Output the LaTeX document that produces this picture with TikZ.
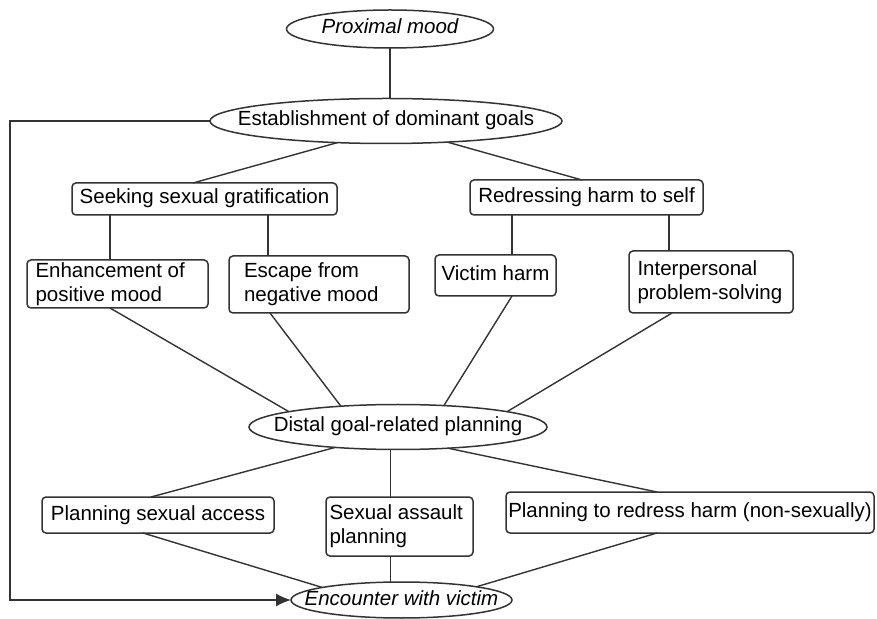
\documentclass[tikz,border=0pt]{standalone}
\usepackage{fontspec}
\setmainfont{Liberation Sans}
\usetikzlibrary{shapes.geometric, arrows.meta}

\begin{document}
\begin{tikzpicture}[x=0.5pt, y=-0.5pt, font=\fontsize{10.25pt}{12pt}\selectfont]

% Fix the page to the size of the figure
\useasboundingbox (0,0) rectangle (877,619);

% Define styles for stages (ellipses) and goals (boxes)
\tikzstyle{stage} = [ellipse, draw=black!80, line width=0.75pt, inner sep=0pt, outer sep=0pt, text height=7.5pt, text depth=2.5pt]
\tikzstyle{goalbox} = [rectangle, rounded corners=2pt, draw=black!80, line width=0.75pt, outer sep=0pt]
\tikzstyle{oneline} = [goalbox, inner sep=0pt, text height=7.5pt, text depth=2.5pt]
\tikzstyle{twoline} = [goalbox, align=flush left, inner ysep=1pt]

%Define the connectors
\tikzstyle{link} = [draw=black!80, line width=0.7pt]

% Stages
\node[stage, minimum width=103.5pt, minimum height=19pt] (prox) at (390,29) {\makebox[0pt]{\itshape Proximal mood}};
\node[stage, minimum width=176pt, minimum height=22.5pt] (estab) at (386,121) {\makebox[0pt]{Establishment of dominant goals}};
\node[stage, minimum width=149pt, minimum height=22.5pt] (distal) at (398,427) {\makebox[0pt]{Distal goal-related planning}};
\node[stage, minimum width=110.5pt, minimum height=18pt] (enc) at (401.5,600) {\makebox[0pt]{\itshape Encounter with victim}};

% Goals
\node[oneline, minimum width=132.5pt, minimum height=16pt] (seek) at (204.5,199) {Seeking sexual gratification};
\node[oneline, minimum width=116.5pt, minimum height=17.5pt] (redress) at (586.5,197.5) {Redressing harm to self};
\node[twoline, text width=82pt, inner xsep=4.25pt, minimum height=24pt] (enh) at (117.5,284) {Enhancement of\\positive mood};
\node[twoline, text width=75pt, inner xsep=7.5pt, minimum height=28.5pt] (esc) at (319,284.5) {Escape from\\negative mood};
\node[oneline, minimum width=60.5pt, minimum height=20.5pt] (victim) at (495.5,275.5) {Victim harm};
\node[twoline, text width=73.5pt, inner xsep=4.25pt, minimum height=31pt] (inter) at (711,282) {Interpersonal\\problem-solving};

% Planning
\node[oneline, minimum width=116pt, minimum height=18pt] (psa) at (158,515) {Planning sexual access};
\node[twoline, text width=70pt, inner xsep=1.75pt, minimum height=29.5pt] (sap) at (399.5,526.5) {Sexual assault\\planning};
\node[oneline, minimum width=184pt, minimum height=20.5pt] (ptr) at (690,512.5) {Planning to redress harm (non-sexually)};

% Upper part
\draw[link] (prox.south) -- (prox.south |- estab.north);
\draw[link] (estab.204) -- ([xshift=-5.75pt]seek.north);
\draw[link] (estab.341) -- ([xshift=-2.25pt]redress.north);
\draw[link] ([xshift=-3.75pt]enh.north) -- ([xshift=-3.75pt]enh.north |- seek.south);
\draw[link] ([xshift=-25.5pt]esc.north) -- ([xshift=-25.5pt]esc.north |- seek.south);
\draw[link] ([xshift=8.25pt]victim.north) -- ([xshift=8.25pt]victim.north |- redress.south);
\draw[link] ([xshift=-21pt]inter.north) -- ([xshift=-21pt]inter.north |- redress.south);

% Into distal planning
\draw[link] ([xshift=-3.75pt]enh.south) -- (distal.172);
\draw[link] ([xshift=-24.5pt]esc.south) -- (distal.160);
\draw[link] ([xshift=8.25pt]victim.south) -- (distal.25);
\draw[link] ([xshift=-19.5pt]inter.south) -- (distal.8);

% Lower part
\draw[link] (distal.198) -- ([xshift=-3.5pt]psa.north);
\draw[link] ([xshift=-4.5pt]sap.north) -- ([xshift=-4.5pt]sap.north |- distal.south);
\draw[link] (distal.337) -- ([xshift=-16.5pt]ptr.north);
\draw[link] ([xshift=-7.5pt]psa.south) -- (enc.171);
\draw[link] ([xshift=-4.5pt]sap.south) -- ([xshift=-4.5pt]sap.south |- enc.north);
\draw[link] ([xshift=-16.5pt]ptr.south) -- (enc.10);

% Feedback loop
\coordinate (corner) at (10,600);
\draw[link, -{Latex[length=7.5pt, width=6.5pt]}] (estab.west) -| (corner) -- (enc.west);

\end{tikzpicture}
\end{document}
